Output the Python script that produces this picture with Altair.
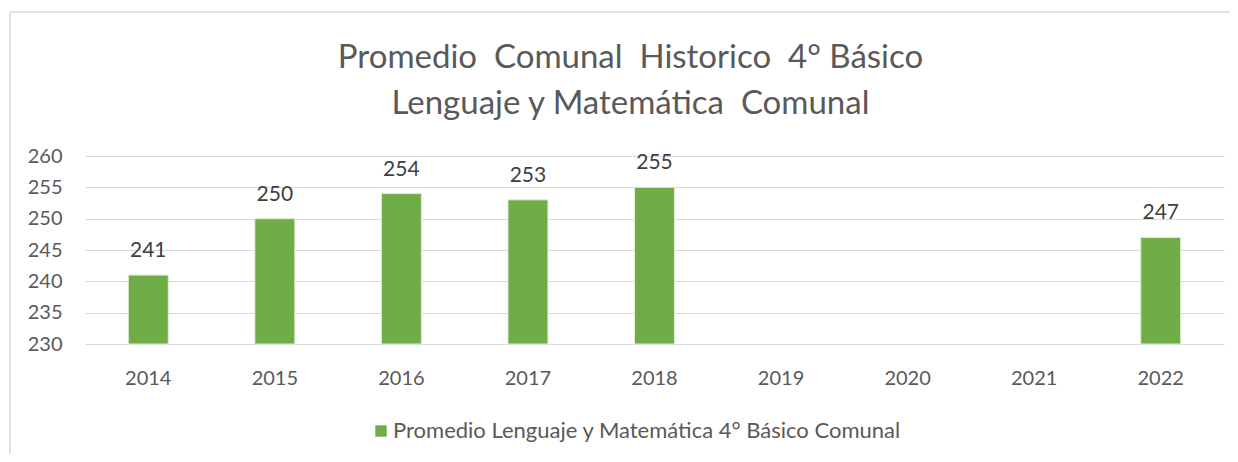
import altair as alt
import pandas as pd

years = ["2014", "2015", "2016", "2017", "2018", "2019", "2020", "2021", "2022"]
values = [241, 250, 254, 253, 255, None, None, None, 247]
series = "Promedio Lenguaje y Matemática 4° Básico Comunal"
y_ticks = [230, 235, 240, 245, 250, 255, 260]
title_lines = ["Promedio\u00a0 Comunal\u00a0 Historico\u00a0 4° Básico", "Lenguaje y Matemática\u00a0 Comunal"]

df = pd.DataFrame({"year": years, "value": values, "series": [series] * len(years)})

FONT = "Lato"
GREEN = "#70AD47"
TXT = "#595959"

x = alt.X("year:O", scale=alt.Scale(domain=years, paddingInner=0, paddingOuter=0),
          axis=alt.Axis(title=None, labelAngle=0, domain=False, ticks=False,
                        labelPadding=24, labelFontSize=20, labelColor=TXT, labelFont=FONT))
y = alt.Y("value:Q", scale=alt.Scale(domain=[230, 260], nice=False, zero=False),
          axis=alt.Axis(title=None, values=y_ticks, domain=False, ticks=False,
                        labelPadding=23, labelFontSize=20, labelColor=TXT, labelFont=FONT,
                        gridColor="#d9d9d9", gridWidth=1.2))

base = alt.Chart(df)

bars = base.mark_bar(width={"band": 0.316}, stroke="#e2efda", strokeWidth=1).encode(
    x=x, y=y, y2=alt.datum(230),
    color=alt.Color("series:N", scale=alt.Scale(range=[GREEN]),
                    legend=alt.Legend(title=None, orient="none", legendX=285, legendY=264,
                                      symbolType="square", symbolSize=130, symbolStrokeWidth=0,
                                      labelFontSize=22, labelColor=TXT, labelFont=FONT,
                                      labelOffset=1, labelLimit=800)),
)

labels = base.mark_text(baseline="bottom", dy=-14, fontSize=21, color="#404040", font=FONT).encode(
    x=x, y=y, text=alt.Text("value:Q", format="d"))

border_top = alt.Chart(pd.DataFrame({"k": [0]})).mark_rule(color="#d9d9d9", strokeWidth=1.5, clip=False).encode(
    x=alt.value(-75), x2=alt.value(1200), y=alt.value(-144))
border_left = alt.Chart(pd.DataFrame({"k": [0]})).mark_rule(color="#d9d9d9", strokeWidth=1.5, clip=False).encode(
    x=alt.value(-75), y=alt.value(-144), y2=alt.value(320))

chart = alt.layer(border_top, border_left, bars, labels).properties(
    width=1139, height=188,
    autosize=alt.AutoSizeParams(type="none"),
    padding={"left": 77, "top": 148, "right": 6, "bottom": 110},
    title=alt.TitleParams(text=title_lines, fontSize=33, font=FONT, fontWeight="normal",
                          color=TXT, anchor="middle", dx=-24, offset=-110, lineHeight=46),
).configure(background="white").configure_view(stroke=None)

chart.save("out.html", embed_options={"renderer": "svg", "actions": False})
